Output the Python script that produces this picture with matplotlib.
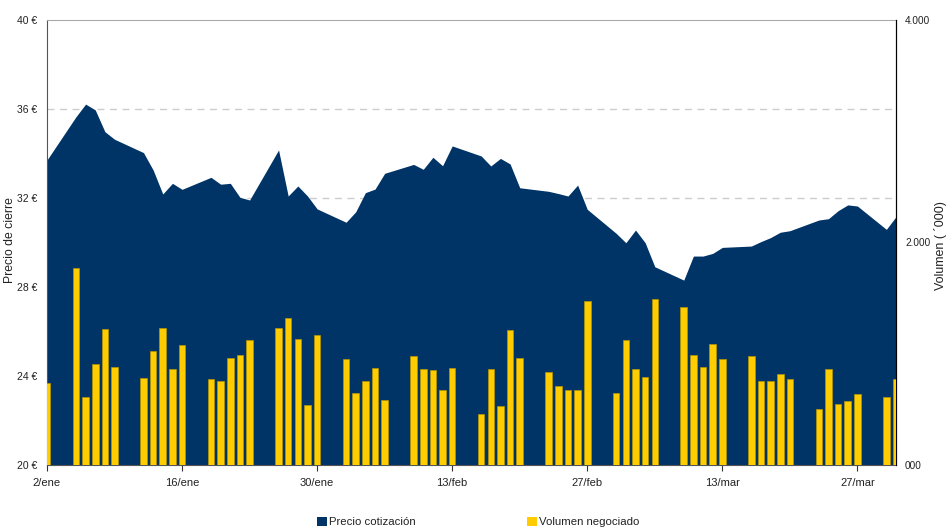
import matplotlib
matplotlib.use('Agg')
import matplotlib.pyplot as plt
import matplotlib.dates as mdates
from matplotlib.patches import Patch
import pandas as pd

plt.rcParams['font.family'] = ['Liberation Sans', 'DejaVu Sans']

dates = [
    '2009-01-02',
    '2009-01-05', '2009-01-06', '2009-01-07', '2009-01-08', '2009-01-09',
    '2009-01-12', '2009-01-13', '2009-01-14', '2009-01-15', '2009-01-16',
    '2009-01-19', '2009-01-20', '2009-01-21', '2009-01-22', '2009-01-23',
    '2009-01-26', '2009-01-27', '2009-01-28', '2009-01-29', '2009-01-30',
    '2009-02-02', '2009-02-03', '2009-02-04', '2009-02-05', '2009-02-06',
    '2009-02-09', '2009-02-10', '2009-02-11', '2009-02-12', '2009-02-13',
    '2009-02-16', '2009-02-17', '2009-02-18', '2009-02-19', '2009-02-20',
    '2009-02-23', '2009-02-24', '2009-02-25', '2009-02-26', '2009-02-27',
    '2009-03-02', '2009-03-03', '2009-03-04', '2009-03-05', '2009-03-06',
    '2009-03-09', '2009-03-10', '2009-03-11', '2009-03-12', '2009-03-13',
    '2009-03-16', '2009-03-17', '2009-03-18', '2009-03-19', '2009-03-20',
    '2009-03-23', '2009-03-24', '2009-03-25', '2009-03-26', '2009-03-27',
    '2009-03-30', '2009-03-31',
]

precio = [
    33.71,
    35.65, 36.22, 35.96, 34.98, 34.64,
    34.04, 33.26, 32.18, 32.66, 32.39,
    32.93, 32.62, 32.66, 32.03, 31.91,
    34.16, 32.09, 32.54, 32.09, 31.51,
    30.91, 31.38, 32.24, 32.40, 33.11,
    33.51, 33.29, 33.83, 33.45, 34.34,
    33.89, 33.44, 33.78, 33.53, 32.46,
    32.30, 32.20, 32.09, 32.58, 31.49,
    30.41, 29.99, 30.56, 29.99, 28.91,
    28.31, 29.39, 29.39, 29.51, 29.78,
    29.84, 30.04, 30.22, 30.46, 30.53,
    31.01, 31.07, 31.43, 31.69, 31.64,
    30.59, 31.16,
]

volumen = [
    734,
    1768, 608, 908, 1220, 878,
    779, 1028, 1229, 863, 1079,
    776, 755, 962, 992, 1124,
    1229, 1324, 1136, 542, 1166,
    950, 650, 755, 875, 584,
    983, 863, 851, 671, 875,
    455, 863, 530, 1211, 962,
    839, 713, 671, 671, 1477,
    647, 1124, 863, 788, 1489,
    1423, 992, 878, 1091, 950,
    983, 755, 755, 818, 776,
    506, 863, 551, 572, 635,
    614, 776,
]

xtick_dates = ['2009-01-02', '2009-01-16', '2009-01-30', '2009-02-13',
               '2009-02-27', '2009-03-13', '2009-03-27']
xtick_labels = ['2/ene', '16/ene', '30/ene', '13/feb', '27/feb', '13/mar', '27/mar']
ytick_left = [20, 24, 28, 32, 36, 40]
ytick_left_labels = ['20 €', '24 €', '28 €', '32 €', '36 €', '40 €']
grid_levels = [24, 28, 32, 36]
ytick_right = [0, 2000, 4000]
ytick_right_labels = ['000', '2.000', '4.000']

navy = '#003366'
gold = '#FFCC00'
txt = '#222222'

fig = plt.figure(figsize=(9.47, 5.29), dpi=100)
ax = fig.add_axes([47/947, 64/529, 849/947, 445/529])

x = mdates.date2num(pd.to_datetime(dates))
ax.fill_between(x, 20, precio, color=navy, lw=0, zorder=2)
for g in grid_levels:
    ax.axhline(g, color='#cccccc', ls=(0, (5, 4)), lw=1, zorder=1)

ax.set_ylim(20, 40)
ax.set_xlim(x[0], x[-1])
ax.set_yticks(ytick_left)
ax.set_yticklabels(ytick_left_labels, fontsize=7.5, color=txt)
ax.tick_params(axis='y', length=0, pad=7)
ax.set_xticks(mdates.date2num(pd.to_datetime(xtick_dates)))
ax.set_xticklabels(xtick_labels, fontsize=8, color=txt)
ax.tick_params(axis='x', length=4, direction='out', pad=5, color='#333333')
ax.set_ylabel('Precio de cierre', fontsize=8.8, color=txt)
ax.yaxis.set_label_coords(-0.036, 0.506)

ax.spines['left'].set_color('#555555')
ax.spines['bottom'].set_color('#555555')
ax.spines['top'].set_color('#aaaaaa')
ax.spines['right'].set_color('#000000')

ax2 = ax.twinx()
ax2.bar(x, volumen, width=0.68, color=gold, edgecolor='#B89500', lw=0.5, zorder=3)
ax2.set_ylim(0, 4000)
ax2.set_xlim(x[0], x[-1])
ax2.set_yticks(ytick_right)
ax2.set_yticklabels(ytick_right_labels, fontsize=7.2, color=txt)
ax2.tick_params(axis='y', length=0, pad=6.5)
ax2.set_ylabel('Volumen ( ´000)', fontsize=9, color=txt)
ax2.yaxis.set_label_coords(1.045, 0.494)
for s in ['left', 'top', 'bottom']:
    ax2.spines[s].set_visible(False)
ax2.spines['right'].set_color('#000000')

handles = [Patch(facecolor=navy, label='Precio cotización'),
           Patch(facecolor=gold, label='Volumen negociado')]
fig.legend(handles=handles, loc='center left', bbox_to_anchor=(317/947, 1 - 522/529),
           ncol=2, frameon=False, handlelength=0.9, handleheight=0.9,
           handletextpad=0.15, columnspacing=9.8, fontsize=8.2,
           borderaxespad=0, borderpad=0, labelcolor=txt)

fig.savefig('out.png', dpi=100)
